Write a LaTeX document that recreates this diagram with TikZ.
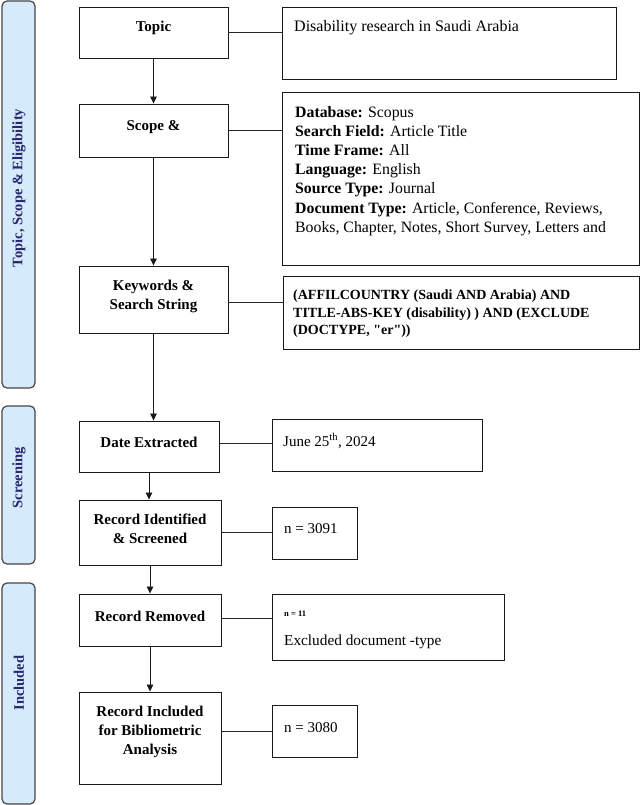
\documentclass[tikz,border=0pt]{standalone}
\usepackage{fontspec}
\setmainfont{Liberation Serif}
\usetikzlibrary{arrows.meta,fit}
\definecolor{barfill}{RGB}{213,234,251}
\definecolor{barline}{RGB}{70,70,70}
\definecolor{bartext}{RGB}{40,38,110}
\newcommand\sqquote{{\XeTeXglyph\XeTeXglyphindex "quotedbl"\relax}}
\begin{document}
\begin{tikzpicture}[x=1pt,y=-1pt,
  bar/.style={draw=barline, fill=barfill, rounded corners=5pt, line width=1.2pt, inner sep=0pt},
  bartxt/.style={rotate=90, font=\fontsize{14.5}{17}\selectfont\bfseries, text=bartext, inner sep=0pt},
  lbox/.style={draw=black!90, line width=0.9pt, inner sep=0pt},
  ltxt/.style={font=\fontsize{15}{19}\selectfont\bfseries, align=center, inner sep=0pt},
  rtxt/.style={align=left, inner sep=0pt, anchor=base west},
  link/.style={draw=black!85, line width=0.8pt},
  arr/.style={draw=black!90, -{Triangle[length=7pt,width=6.5pt]}, line width=0.8pt}]
\useasboundingbox (0,0) rectangle (641,805);

% side bars
\node[bar, fit={(2,1)(35,388)}] (bar1) {};
\node[bartxt] (bar1t) at (19,188) {Topic, Scope \& Eligibility};
\node[bar, fit={(2,406)(35,564)}] (bar2) {};
\node[bartxt] (bar2t) at (19,478) {Screening};
\node[bar, fit={(2,583)(35,804)}] (bar3) {};
\node[bartxt] (bar3t) at (19,683) {Included};

% left boxes
\node[lbox, fit={(79,7)(228,58)}] (topic) {};
\node[ltxt] (topicT) at (153.5,28) {Topic};
\node[lbox, fit={(79,104)(228,157)}] (scope) {};
\node[ltxt] (scopeT) at (153.5,127) {Scope \&};
\node[lbox, fit={(79,266)(228,333)}] (kw) {};
\node[ltxt] (kwT) at (153.5,296) {Keywords \&\\Search String};
\node[lbox, fit={(79,421)(219,472)}] (date) {};
\node[ltxt] (dateT) at (149,442) {Date Extracted};
\node[lbox, fit={(79,500)(221,565)}] (ident) {};
\node[ltxt] (identT) at (150,529) {Record Identified\\\& Screened};
\node[lbox, fit={(79,594)(221,646)}] (rem) {};
\node[ltxt] (remT) at (150,616) {Record Removed};
\node[lbox, fit={(79,692)(221,784)}] (incl) {};
\node[ltxt] (inclT) at (150,732) {Record Included\\for Bibliometric\\Analysis};

% right boxes
\node[lbox, fit={(282,7)(616,79)}] (topicR) {};
\node[rtxt, font=\fontsize{16}{19}\selectfont] (topicRT) at (294,32) {Disability research in Saudi Arabia};
\node[lbox, fit={(282,92)(639,265)}] (scopeR) {};
\node[align=left, inner sep=0pt, anchor=north west, font=\fontsize{15.8}{19.2}\selectfont] (scopeRT) at (295,106)
  {\textbf{Database:} Scopus\\
   \textbf{Search Field:} Article Title\\
   \textbf{Time Frame:} All\\
   \textbf{Language:} English\\
   \textbf{Source Type:} Journal\\
   \textbf{Document Type:} Article, Conference, Reviews,\\
   Books, Chapter, Notes, Short Survey, Letters and};
\node[lbox, fit={(283,276)(639,349)}] (kwR) {};
\node[align=left, inner sep=0pt, anchor=north west, font=\fontsize{14}{17.5}\selectfont\bfseries] (kwRT) at (293,290)
  {(AFFILCOUNTRY (Saudi AND Arabia) AND\\
   TITLE-ABS-KEY (disability) ) AND (EXCLUDE\\
   (DOCTYPE, \sqquote er\sqquote))};
\node[lbox, fit={(272,419)(482,471)}] (dateR) {};
\node[rtxt, font=\fontsize{15}{18}\selectfont] (dateRT) at (283,446) {June 25\textsuperscript{th}, 2024};
\node[lbox, fit={(272,507)(357,559)}] (identR) {};
\node[rtxt, font=\fontsize{15}{18}\selectfont] (identRT) at (284,533) {n = 3091};
\node[lbox, fit={(272,594)(504,660)}] (remR) {};
\node[rtxt, font=\fontsize{8.5}{10}\selectfont\bfseries] (remRT1) at (284,616) {n = 11};
\node[rtxt, font=\fontsize{15.3}{18}\selectfont] (remRT2) at (284,645) {Excluded document -type};
\node[lbox, fit={(272,705)(357,757)}] (inclR) {};
\node[rtxt, font=\fontsize{15}{18}\selectfont] (inclRT) at (284,732) {n = 3080};

% connectors
\draw[link] (topic.east |- 0,32) -- (topicR.west |- 0,32);
\draw[link] (scope.east |- 0,130) -- (scopeR.west |- 0,130);
\draw[link] (kw.east |- 0,302) -- (kwR.west |- 0,302);
\draw[link] (date.east |- 0,443) -- (dateR.west |- 0,443);
\draw[link] (ident.east |- 0,532) -- (identR.west |- 0,532);
\draw[link] (rem.east |- 0,618) -- (remR.west |- 0,618);
\draw[link] (incl.east |- 0,731) -- (inclR.west |- 0,731);

% arrows
\draw[arr] (topic.south) -- (scope.north);
\draw[arr] (scope.south) -- (kw.north);
\draw[arr] (kw.south) -- (kw.south |- date.north);
\draw[arr] (date.south) -- (date.south |- ident.north);
\draw[arr] (ident.south) -- (ident.south |- rem.north);
\draw[arr] (rem.south) -- (rem.south |- incl.north);
\end{tikzpicture}
\end{document}
